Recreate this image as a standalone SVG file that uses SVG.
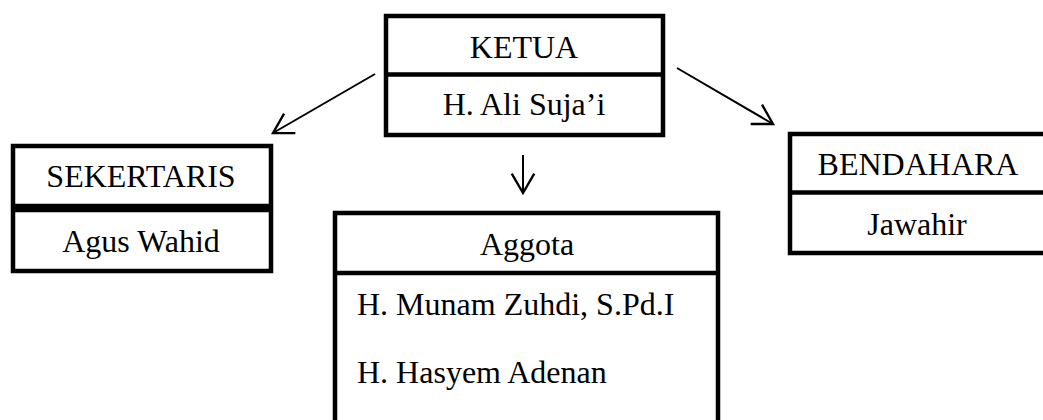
<svg xmlns="http://www.w3.org/2000/svg" width="1043" height="420" viewBox="0 0 1043 420">
<style>
.box{fill:#fff;stroke:#000;stroke-width:4.5}
.div{stroke:#000;stroke-width:4.5}
.t{font-family:"Liberation Serif","Times New Roman",serif;font-size:32px;fill:#000}
.c{text-anchor:middle}
.conn{stroke:#000;stroke-width:2;fill:none}
</style>
<defs>
<marker id="arr" markerUnits="userSpaceOnUse" markerWidth="30" markerHeight="30" viewBox="-22 -14 26 28" refX="0" refY="0" orient="auto">
<path d="M-18,-10.5 L0,0 L-18,10.5" fill="none" stroke="#000" stroke-width="2.2"/>
</marker>
</defs>
<rect width="1043" height="420" fill="#fff"/>
<g id="connectors">
<line class="conn" x1="375" y1="74" x2="273" y2="133" marker-end="url(#arr)"/>
<line class="conn" x1="677" y1="68" x2="773" y2="124" marker-end="url(#arr)"/>
<line class="conn" x1="523" y1="155" x2="523" y2="193" marker-end="url(#arr)"/>
</g>
<g id="ketua">
<rect class="box" x="386" y="16" width="277" height="119"/>
<line class="div" x1="386" y1="74.5" x2="663" y2="74.5"/>
<text class="t c" x="524" y="58">KETUA</text>
<text class="t c" x="524" y="115">H. Ali Suja’i</text>
</g>
<g id="sekertaris">
<rect class="box" x="13" y="146" width="258" height="60"/>
<rect class="box" x="13" y="210" width="258" height="61"/>
<text class="t c" x="141" y="187">SEKERTARIS</text>
<text class="t c" x="141" y="252">Agus Wahid</text>
</g>
<g id="bendahara">
<rect class="box" x="790" y="134" width="270" height="119"/>
<line class="div" x1="790" y1="192.5" x2="1060" y2="192.5"/>
<text class="t c" x="918" y="175">BENDAHARA</text>
<text class="t c" x="917" y="235">Jawahir</text>
</g>
<g id="anggota">
<rect class="box" x="335" y="213" width="383" height="230"/>
<line class="div" x1="335" y1="273" x2="718" y2="273"/>
<text class="t c" x="527" y="255">Aggota</text>
<text class="t" x="357" y="315">H. Munam Zuhdi, S.Pd.I</text>
<text class="t" x="357" y="383">H. Hasyem Adenan</text>
</g>
</svg>
